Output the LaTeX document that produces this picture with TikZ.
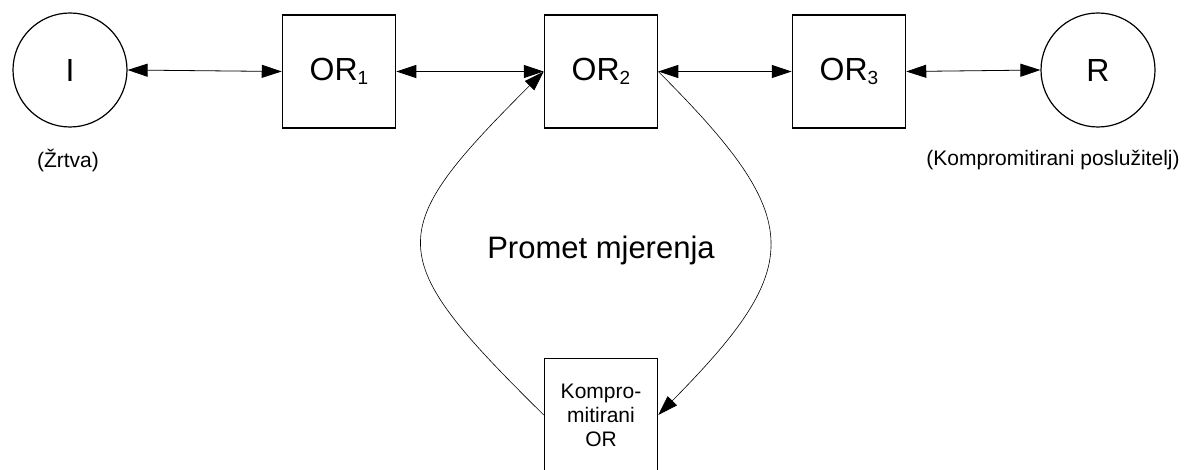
\documentclass[tikz,border=0pt]{standalone}
\usepackage{fontspec}
\setmainfont{Liberation Sans}
\usetikzlibrary{arrows.meta}
\newcommand\lowidx[1]{\raisebox{-4pt}{\fontsize{19}{19}\selectfont #1}}
\begin{document}
\begin{tikzpicture}[x=1pt,y=-1pt,
  router/.style={draw,line width=1.5pt,minimum width=113pt,minimum height=113pt,inner sep=0pt,
    font=\fontsize{32}{36}\selectfont},
  endpoint/.style={draw,line width=1.2pt,circle,minimum size=114pt,inner sep=0pt,
    font=\fontsize{32}{36}\selectfont},
  caption/.style={font=\fontsize{21}{24}\selectfont,inner sep=0pt},
  link/.style={line width=0.8pt,{Triangle[length=20pt,width=13pt]}-{Triangle[length=20pt,width=13pt]}},
  probe/.style={line width=0.6pt,-{Triangle[length=20pt,width=13pt]}}]
\useasboundingbox (0,0) rectangle (1188,470);

% circuit through the onion routers
\node[endpoint] (I) at (70,70) {I};
\node[router] (or1) at (339,71.5) {OR\lowidx{1}};
\node[router] (or2) at (601,71.5) {OR\lowidx{2}};
\node[router] (or3) at (849,71.5) {OR\lowidx{3}};
\node[endpoint] (R) at (1098,70) {R};

% compromised router below
\node[router,font=\fontsize{21}{24}\selectfont,align=center] (komp) at (601,415)
  {Kompro-\\mitirani\\OR};

\node[caption] (zrtva) at (68,160) {(Žrtva)};
\node[caption] (posl) at (1053,160) {(Kompromitirani poslužitelj)};
\node[font=\fontsize{31}{36}\selectfont] (promet) at (601,250) {Promet mjerenja};

\draw[link] (I.east) -- (or1.west);
\draw[link] (or1.east) -- (or2.west);
\draw[link] (or2.east) -- (or3.west);
\draw[link] (or3.east) -- (R.west);

% measurement traffic loop
\draw[probe] (komp.west) .. controls +(-162,-160) and +(-162,162) .. (or2.west);
\draw[probe] (or2.east) .. controls +(148,148) and +(148,-150) .. (komp.east);
\end{tikzpicture}
\end{document}
